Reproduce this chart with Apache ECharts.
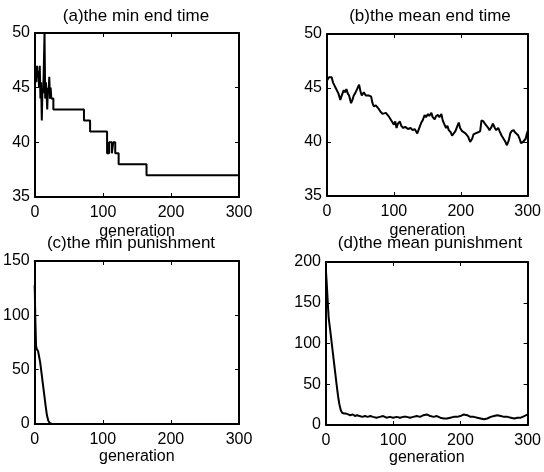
<!DOCTYPE html>
<html><head><meta charset="utf-8">
<script src="https://cdn.jsdelivr.net/npm/echarts@6/dist/echarts.min.js"></script>
<style>html,body{margin:0;padding:0;background:#fff}#c{width:544px;height:472px}</style>
</head><body><div id="c"></div>
<script>
// (a) min end time: change points of a step curve
const genA = [0,1,2,3,4,5,6,7,8,9,10,11,12,13,14,15,16,17,18,19,20,21,22,23,24,27,72,81,106,109,113,115,118,123,164,300];
const valA = [46,47,45.5,47,46,46.5,45,47,44,45.5,42,45,44.5,47,50,44,45.5,44.5,43,45,44.5,46,44,45,44,43,42,41,39,40,39,40,39,38,37,37];
// (b) mean end time
const genB = [0,3,5,7,9,11,13,15,17,20,22,25,27,29,31,33,36,38,40,42,45,48,50,52,55,58,60,63,66,68,70,73,77,80,83,85,88,92,95,98,100,102,104,106,109,111,114,117,121,125,128,131,135,138,141,143,146,148,151,153,156,158,161,163,166,168,171,173,175,178,180,182,185,187,189,192,195,197,199,202,204,207,209,211,214,217,219,222,226,229,231,234,236,238,241,243,246,248,251,253,256,258,261,263,266,269,272,274,276,279,281,283,286,288,290,293,295,297,299,300];
const valB = [45.7,46.0,46.1,46.0,45.5,45.4,45.0,45.0,44.5,43.9,44.3,44.8,44.6,44.9,44.5,44.3,43.6,43.9,44.3,44.5,44.9,45.3,44.7,44.3,44.6,44.3,44.2,44.3,44.2,43.6,43.3,43.4,43.1,42.8,42.6,42.5,42.7,42.4,42.1,41.8,41.6,41.9,41.3,41.7,41.9,41.5,41.3,41.4,41.2,41.3,41.1,41.2,40.8,41.3,41.8,42.0,42.5,42.3,42.6,42.4,42.7,42.3,42.1,42.4,42.5,42.3,42.6,42.0,41.7,41.3,41.5,41.1,40.9,40.6,40.6,41.0,41.5,41.8,41.3,41.0,41.1,40.8,40.9,40.5,40.0,40.3,40.7,40.8,40.9,41.0,42.0,41.9,41.7,41.8,41.3,41.1,41.4,41.7,41.3,41.1,41.3,41.0,40.6,40.5,40.1,39.7,40.2,40.8,41.0,41.1,40.9,41.0,40.6,40.3,39.9,40.0,39.9,40.3,40.8,41.0];
// (c) min punishment
const genC = [0,1,2,3,5,6,8,10,12,14,16,18,20,22,25,300];
const valC = [128,95,72,69,67,66,57,47,37,27,17,8,3,1,0,0];
// (d) mean punishment
const genD = [0,1,2,3,4,6,8,10,12,14,16,18,20,22,24,27,30,33,36,40,43,46,50,54,58,62,66,70,75,80,85,90,95,100,105,110,115,120,125,130,135,140,145,150,155,160,165,170,175,180,185,190,195,200,205,210,215,220,225,230,235,240,245,250,255,260,265,270,275,280,285,290,295,300];
const valD = [188,175,160,145,131,118,104,90,76,62,48,35,25,18,15,14,14,13,12,13,11,12,11,10,11,10,11,10,9,10,11,9,10,9,10,9,10,10,9,10,11,10,12,13,11,10,11,9,8,8,9,10,10,11,13,12,10,10,9,8,7,8,10,11,12,11,10,10,9,8,9,9,11,13];

const titles = ['(a)the min end time','(b)the mean end time','(c)the min punishment','(d)the mean punishment'];
const xTicks = {min:0, max:300, interval:100};
const yRanges = [{min:35,max:50,interval:5},{min:35,max:50,interval:5},{min:0,max:150,interval:50},{min:0,max:200,interval:50}];

const FONT = 'Liberation Sans, Arial, sans-serif';
const grids = [
  {left:35, top:33, width:204, height:164},
  {left:327, top:34, width:204, height:162},
  {left:34, top:261, width:205, height:163},
  {left:326, top:262, width:204, height:163}
];
const nameGaps = [27, 27, 18, 18];
const titlePos = [{x:136,y:8},{x:430,y:8},{x:131,y:235},{x:430,y:235}];
const lineStyle = {color:'#000', width:2};

const xAxis = [], yAxis = [];
grids.forEach((g, i) => {
  xAxis.push({gridIndex:i, type:'value', position:'bottom', ...xTicks,
    axisLine:{show:true, onZero:false, lineStyle},
    axisTick:{show:true, inside:true, length:4, lineStyle:{color:'#000'}},
    axisLabel:{color:'#000', fontSize:16, fontFamily:FONT, margin:8},
    splitLine:{show:false},
    name:'generation', nameLocation:'middle', nameGap:nameGaps[i],
    nameTextStyle:{color:'#000', fontSize:16, fontFamily:FONT}});
  xAxis.push({gridIndex:i, type:'value', position:'top', ...xTicks,
    axisLine:{show:true, onZero:false, lineStyle},
    axisTick:{show:true, inside:true, length:4, lineStyle:{color:'#000'}},
    axisLabel:{show:false}, splitLine:{show:false}});
  yAxis.push({gridIndex:i, type:'value', position:'left', ...yRanges[i],
    axisLine:{show:true, onZero:false, lineStyle},
    axisTick:{show:true, inside:true, length:4, lineStyle:{color:'#000'}},
    axisLabel:{color:'#000', fontSize:16, fontFamily:FONT, margin:5},
    splitLine:{show:false}});
  yAxis.push({gridIndex:i, type:'value', position:'right', ...yRanges[i],
    axisLine:{show:true, onZero:false, lineStyle},
    axisTick:{show:true, inside:true, length:4, lineStyle:{color:'#000'}},
    axisLabel:{show:false}, splitLine:{show:false}});
});

const pairs = (xs, ys) => xs.map((x, k) => [x, ys[k]]);
const datasets = [pairs(genA,valA), pairs(genB,valB), pairs(genC,valC), pairs(genD,valD)];
const series = datasets.map((d, i) => ({
  type:'line', xAxisIndex:i*2, yAxisIndex:i*2, data:d,
  step: i === 0 ? 'end' : false,
  showSymbol:false, symbol:'none', clip:true,
  lineStyle:{color:'#000', width:2}, animation:false
}));

const chart = echarts.init(document.getElementById('c'), null, {renderer:'canvas'});
chart.setOption({
  animation:false,
  backgroundColor:'#fff',
  title: titles.map((t, i) => ({text:t, left:titlePos[i].x, top:titlePos[i].y, textAlign:'center',
    padding:0, textStyle:{color:'#000', fontSize:17, fontWeight:'normal', fontFamily:FONT}})),
  grid: grids,
  xAxis, yAxis, series
});
</script>
</body></html>
